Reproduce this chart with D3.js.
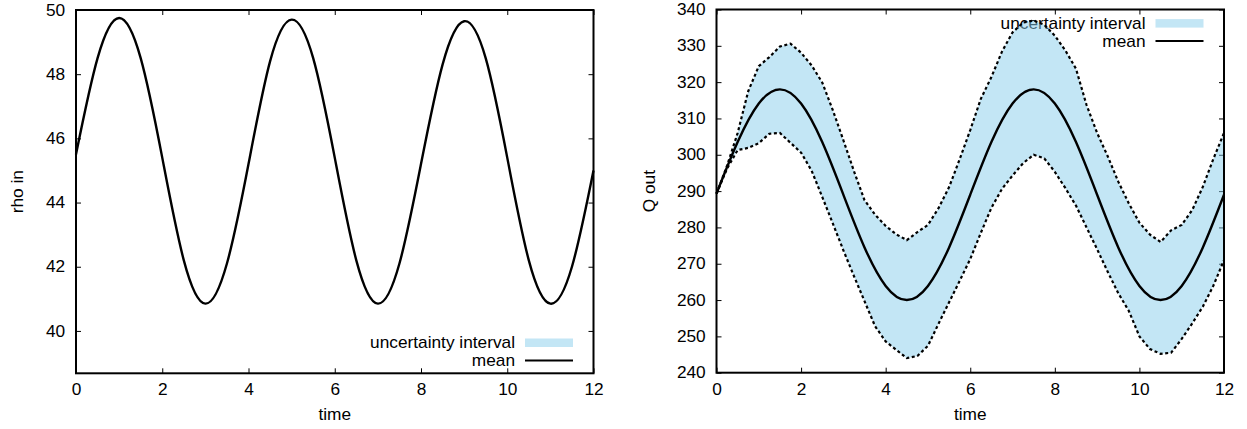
<!DOCTYPE html>
<html>
<head>
<meta charset="utf-8">
<script src="https://cdn.jsdelivr.net/npm/d3@7"></script>
<style>
body { margin: 0; background: #fff; }
svg text { font-family: "Liberation Sans", Arial, sans-serif; font-size: 16px; fill: #000; }
</style>
</head>
<body>
<div id="chart"></div>
<script>
// time grid of the mean curves
var time = [0, 0.5, 1, 1.5, 2, 2.5, 3, 3.5, 4, 4.5, 5, 5.5, 6, 6.5, 7, 7.5, 8, 8.5, 9, 9.5, 10, 10.5, 11, 11.5, 12];

// left panel: rho in
var rhoIn = [45.5, 48.5, 49.75, 48.5, 45.4, 42.2, 40.85, 42.1, 45.2, 48.4, 49.7, 48.5, 45.4, 42.2, 40.85, 42.1,
             45.2, 48.3, 49.65, 48.5, 45.4, 42.2, 40.85, 42.0, 45.0];

// right panel: Q out mean
var qOutMean = [289.3, 303.5, 314.1, 318.0, 314.1, 303.5, 289.0, 274.5, 263.9, 260.0, 263.9, 274.5, 289.0,
                303.5, 314.1, 318.0, 314.1, 303.5, 289.0, 274.5, 263.9, 260.0, 263.9, 274.5, 289.0];

// uncertainty interval of Q out
var bandTime = [0, 0.25, 0.5, 0.75, 1, 1.25, 1.5, 1.75, 2, 2.25, 2.5, 2.75, 3, 3.25, 3.5, 3.75, 4, 4.25, 4.5, 4.75,
                5, 5.25, 5.5, 5.75, 6, 6.25, 6.5, 6.75, 7, 7.25, 7.5, 7.75, 8, 8.25, 8.5, 8.75, 9, 9.25, 9.5, 9.75,
                10, 10.25, 10.5, 10.75, 11, 11.25, 11.5, 11.75, 12];
var qOutUpper = [289.3, 297.0, 306.0, 317.5, 324.4, 326.9, 329.8, 330.6, 328.1, 324.6, 319.9, 312.3, 304.0, 295.5,
                 287.5, 283.5, 280.4, 278.1, 276.5, 278.7, 280.7, 285.3, 291.1, 298.8, 306.8, 315.4, 321.4, 328.4,
                 333.7, 336.4, 337.0, 335.8, 332.8, 328.7, 323.7, 313.7, 306.0, 299.6, 292.6, 286.6, 281.3, 278.0,
                 276.0, 279.2, 280.7, 284.8, 291.2, 298.9, 306.0];
var qOutLower = [289.3, 296.2, 301.3, 301.9, 303.2, 305.8, 306.0, 303.3, 300.6, 295.6, 288.4, 281.1, 273.7, 266.6,
                 259.7, 252.8, 248.6, 246.3, 244.0, 244.6, 247.4, 253.5, 259.4, 265.3, 271.3, 278.5, 285.4, 290.6,
                 294.3, 297.7, 300.0, 299.0, 295.3, 290.8, 286.0, 280.0, 274.0, 267.8, 261.9, 257.0, 250.0, 246.5,
                 245.2, 245.5, 249.3, 253.6, 258.2, 264.0, 271.0];

var xTicks = [0, 2, 4, 6, 8, 10, 12];
var rhoTicks = [40, 42, 44, 46, 48, 50];
var qTicks = [240, 250, 260, 270, 280, 290, 300, 310, 320, 330, 340];
var legendLabels = ['uncertainty interval', 'mean'];

function draw_chart() {
    var width = 1247, height = 429;
    var band_colour = '#87ceeb';
    var stretch = 1.08; // the reference glyphs are a little wider than Liberation Sans

    var svg = d3.select('#chart')
        .append('svg')
        .attr('width', width)
        .attr('height', height);

    function add_text(parent, x, y, label, anchor, rotate) {
        return parent.append('text')
            .attr('transform', `translate(${x}, ${y})` + (rotate ? ' rotate(-90)' : '') + ` scale(${stretch}, 1)`)
            .style('text-anchor', anchor)
            .text(label);
    }

    var panels = [
        { left: 76, right: 593.5, top: 10, bottom: 373.3, y_domain: [38.68, 50], y_ticks: rhoTicks,
          y_label: 'rho in', y_label_x: 23, mean: rhoIn, band: false, legend_y: 342.7 },
        { left: 716.5, right: 1224, top: 9.5, bottom: 372.7, y_domain: [240, 340], y_ticks: qTicks,
          y_label: 'Q out', y_label_x: 655, mean: qOutMean, band: true, legend_y: 23.3 }
    ];

    panels.forEach(function(p) {
        var x = d3.scaleLinear().domain([0, 12]).range([p.left, p.right]);
        var y = d3.scaleLinear().domain(p.y_domain).range([p.bottom, p.top]);
        var g = svg.append('g');

        // ticks, mirrored on all four sides
        g.append('g')
            .attr('transform', `translate(0, ${p.bottom})`)
            .call(d3.axisBottom(x).tickValues(xTicks).tickSizeInner(-5).tickSizeOuter(0).tickPadding(10.5));
        g.append('g')
            .attr('transform', `translate(0, ${p.top})`)
            .call(d3.axisTop(x).tickValues(xTicks).tickSizeInner(-5).tickSizeOuter(0).tickFormat(''));
        g.append('g')
            .attr('transform', `translate(${p.left}, 0)`)
            .call(d3.axisLeft(y).tickValues(p.y_ticks).tickSizeInner(-5).tickSizeOuter(0).tickPadding(10));
        g.append('g')
            .attr('transform', `translate(${p.right}, 0)`)
            .call(d3.axisRight(y).tickValues(p.y_ticks).tickSizeInner(-5).tickSizeOuter(0).tickFormat(''));
        g.selectAll('.domain').remove();
        g.selectAll('.tick line').attr('stroke', '#000').attr('stroke-width', 1);
        g.selectAll('.tick text')
            .attr('font-size', null)
            .attr('font-family', null)
            .attr('transform', `scale(${stretch}, 1)`);

        // axis titles
        add_text(g, (p.left + p.right) / 2, 420, 'time', 'middle', false);
        add_text(g, p.y_label_x, (p.top + p.bottom) / 2, p.y_label, 'middle', true);

        // key
        var key = g.append('g');
        legendLabels.forEach(function(label, i) {
            add_text(key, p.right - 78.5, p.legend_y + i * 17.8, label, 'end', false).attr('dy', '0.35em');
        });
        key.append('rect')
            .attr('x', p.right - 68.5)
            .attr('y', p.legend_y - 4.2)
            .attr('width', 48)
            .attr('height', 8.5)
            .attr('fill', band_colour)
            .attr('fill-opacity', 0.5);
        key.append('line')
            .attr('x1', p.right - 68.5)
            .attr('x2', p.right - 20.5)
            .attr('y1', p.legend_y + 17.8)
            .attr('y2', p.legend_y + 17.8)
            .attr('stroke', '#000')
            .attr('stroke-width', 2);

        if (p.band) {
            var band = bandTime.map(function(t, i) { return { t: t, lo: qOutLower[i], hi: qOutUpper[i] }; });
            g.append('path')
                .datum(band)
                .attr('fill', band_colour)
                .attr('fill-opacity', 0.5)
                .attr('d', d3.area().x(d => x(d.t)).y0(d => y(d.lo)).y1(d => y(d.hi)));
            ['lo', 'hi'].forEach(function(k) {
                g.append('path')
                    .datum(band)
                    .attr('fill', 'none')
                    .attr('stroke', '#000')
                    .attr('stroke-width', 2.2)
                    .attr('stroke-dasharray', '3,2.6')
                    .attr('d', d3.line().x(d => x(d.t)).y(d => y(d[k])));
            });
        }

        // mean curve
        g.append('path')
            .datum(time.map(function(t, i) { return [t, p.mean[i]]; }))
            .attr('fill', 'none')
            .attr('stroke', '#000')
            .attr('stroke-width', 2.4)
            .attr('d', d3.line().x(d => x(d[0])).y(d => y(d[1])).curve(d3.curveNatural));

        // border
        g.append('rect')
            .attr('x', p.left)
            .attr('y', p.top)
            .attr('width', p.right - p.left)
            .attr('height', p.bottom - p.top)
            .attr('fill', 'none')
            .attr('stroke', '#000')
            .attr('stroke-width', 2);
    });
}

document.addEventListener('DOMContentLoaded', draw_chart);
</script>
</body>
</html>
